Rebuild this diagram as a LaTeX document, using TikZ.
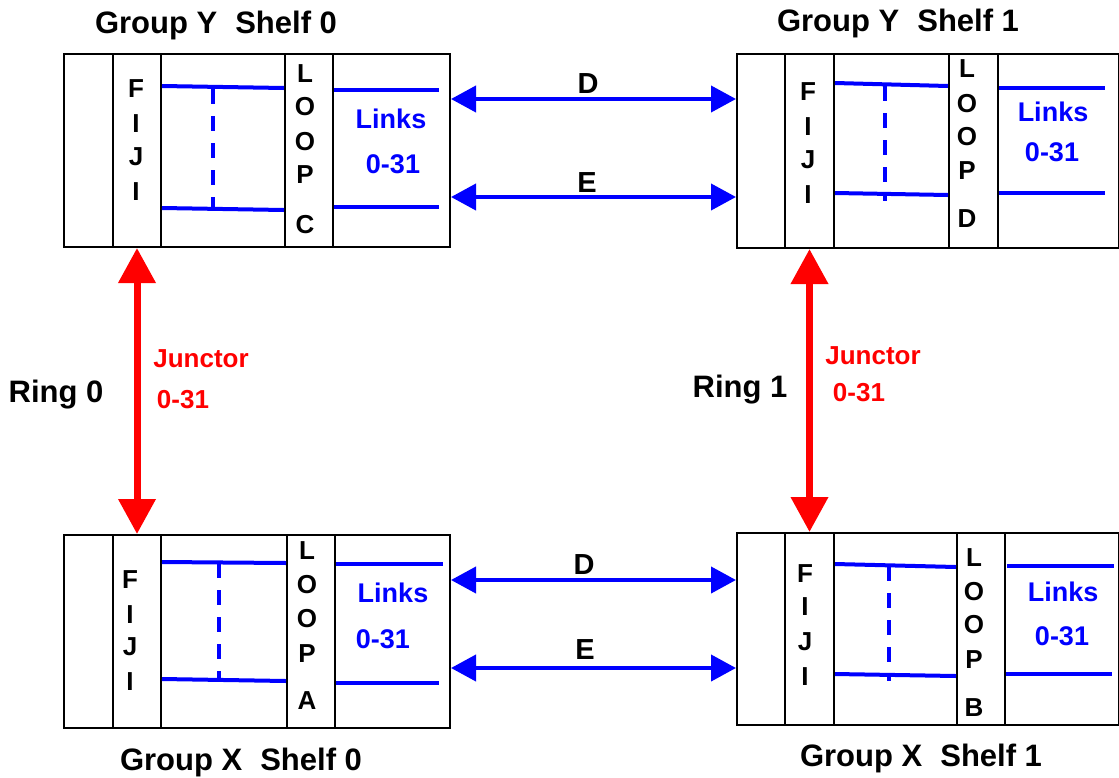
\documentclass[tikz,border=0pt]{standalone}
\usepackage{fontspec}
\setmainfont{Liberation Sans}
\usetikzlibrary{arrows.meta}
\definecolor{lblue}{RGB}{0,0,255}
\definecolor{lred}{RGB}{255,0,0}
\tikzset{
  box/.style={draw=black, line width=2pt, inner sep=0pt, anchor=north west},
  colbox/.style={box, minimum width=48pt},
  txt/.style={inner sep=0pt, anchor=base, font=\bfseries\fontsize{#1}{#1}\selectfont},
  hdr/.style={txt=31},
  lab/.style={txt=29},
  letter/.style={txt=26},
  bluetxt/.style={txt=27, text=lblue},
  redtxt/.style={txt=26, text=lred},
  bline/.style={draw=lblue, line width=4pt},
  dline/.style={draw=lblue, line width=4pt, dash pattern=on 15pt off 12pt},
  blink/.style={draw=lblue, line width=4pt, {Triangle[length=25pt,width=26pt]}-{Triangle[length=25pt,width=26pt]}},
  rlink/.style={draw=lred, line width=7pt, {Triangle[length=35pt,width=36pt]}-{Triangle[length=35pt,width=36pt]}},
}
\begin{document}
\begin{tikzpicture}[x=1pt,y=-1pt]
\useasboundingbox (0,0) rectangle (1119,777);

% ---------- shelves ----------
% top left (Group Y Shelf 0)
\node[box, minimum width=386pt, minimum height=193pt] (s0) at (63,53) {};
\node[colbox, minimum height=193pt] (f0) at (112,53) {};
\node[colbox, minimum height=193pt] (l0) at (284,53) {};
% top right (Group Y Shelf 1)
\node[box, minimum width=382pt, minimum height=194pt] (s1) at (736,53) {};
\node[colbox, minimum width=49pt, minimum height=194pt] (f1) at (784,53) {};
\node[colbox, minimum width=49pt, minimum height=194pt] (l1) at (948,53) {};
% bottom left (Group X Shelf 0)
\node[box, minimum width=386pt, minimum height=193pt] (s2) at (63,534) {};
\node[colbox, minimum height=193pt] (f2) at (112,534) {};
\node[colbox, minimum height=193pt] (l2) at (286,534) {};
% bottom right (Group X Shelf 1)
\node[box, minimum width=382pt, minimum height=192pt] (s3) at (736,532) {};
\node[colbox, minimum width=49pt, minimum height=192pt] (f3) at (784,532) {};
\node[colbox, minimum height=192pt] (l3) at (956,532) {};

% ---------- internal blue lines ----------
% TL
\draw[bline] (f0.east |- 0,86) -- (l0.west |- 0,88);
\draw[bline] (f0.east |- 0,208) -- (l0.west |- 0,210);
\draw[dline] (213,89) -- (213,208);
\coordinate (tl1) at (439,90); \coordinate (tl2) at (439,207);
\draw[bline] (l0.east |- tl1) -- (tl1);
\draw[bline] (l0.east |- tl2) -- (tl2);
% TR
\draw[bline] (f1.east |- 0,83) -- (l1.west |- 0,86);
\draw[bline] (f1.east |- 0,193) -- (l1.west |- 0,195);
\draw[dline] (885,86) -- (885,201);
\coordinate (tr1) at (1105,88); \coordinate (tr2) at (1105,193);
\draw[bline] (999,88) -- (tr1);
\draw[bline] (999,193) -- (tr2);
% BL
\draw[bline] (f2.east |- 0,562) -- (l2.west |- 0,563);
\draw[bline] (f2.east |- 0,679) -- (l2.west |- 0,681);
\draw[dline] (219,563) -- (219,680);
\coordinate (bl1) at (443,564); \coordinate (bl2) at (439,683);
\draw[bline] (336,564) -- (bl1);
\draw[bline] (l2.east |- bl2) -- (bl2);
% BR
\draw[bline] (f3.east |- 0,564) -- (l3.west |- 0,567);
\draw[bline] (f3.east |- 0,674) -- (l3.west |- 0,676);
\draw[dline] (889,566) -- (889,681);
\coordinate (br1) at (1114,566); \coordinate (br2) at (1112,674);
\draw[bline] (1007,566) -- (br1);
\draw[bline] (l3.east |- br2) -- (br2);

% ---------- links between shelves ----------
\draw[blink] (s0.east |- 0,99) -- (s1.west |- 0,99);
\draw[blink] (s0.east |- 0,197) -- (s1.west |- 0,197);
\draw[blink] (s2.east |- 0,580) -- (s3.west |- 0,580);
\draw[blink] (s2.east |- 0,668) -- (s3.west |- 0,668);
\draw[rlink] (f0.south) -- (f2.north);
\draw[rlink] (f1.south) -- (f3.north);

% ---------- labels ----------
\node[hdr] (h0) at (216,33) {Group Y\hspace{18pt}Shelf 0};
\node[hdr] (h1) at (898,31) {Group Y\hspace{18pt}Shelf 1};
\node[hdr] (h2) at (241,770) {Group X\hspace{18pt}Shelf 0};
\node[hdr] (h3) at (921,766) {Group X\hspace{18pt}Shelf 1};

\node[hdr] (r0) at (56,402) {Ring 0};
\node[hdr] (r1) at (740,397) {Ring 1};

\node[redtxt] (j0) at (201,367) {Junctor};
\node[redtxt] (j0n) at (183,408) {0-31};
\node[redtxt] (j1) at (873,364) {Junctor};
\node[redtxt] (j1n) at (859,401) {0-31};

\node[lab] (d0) at (588,93) {D};
\node[lab] (e0) at (587,192) {E};
\node[lab] (d1) at (584,574) {D};
\node[lab] (e1) at (585,659) {E};

\node[bluetxt] (k0) at (391,128) {Links};
\node[bluetxt] (k0n) at (393,173) {0-31};
\node[bluetxt] (k1) at (1053,121) {Links};
\node[bluetxt] (k1n) at (1052,161) {0-31};
\node[bluetxt] (k2) at (393,602) {Links};
\node[bluetxt] (k2n) at (383,648) {0-31};
\node[bluetxt] (k3) at (1063,601) {Links};
\node[bluetxt] (k3n) at (1062,645) {0-31};

% FIJI letters
\foreach \c/\y [count=\i] in {F/97, I/132, J/165, I/200} \node[letter] (fa\i) at (136,\y) {\c};
\foreach \c/\y [count=\i] in {F/100, I/135, J/168, I/203} \node[letter] (fb\i) at (808,\y) {\c};
\foreach \c/\y [count=\i] in {F/588, I/623, J/655, I/690} \node[letter] (fc\i) at (130,\y) {\c};
\foreach \c/\y [count=\i] in {F/582, I/615, J/650, I/685} \node[letter] (fd\i) at (805,\y) {\c};
% LOOP letters
\foreach \c/\y [count=\i] in {L/82, O/115, O/150, P/183, C/233} \node[letter] (la\i) at (305,\y) {\c};
\foreach \c/\y [count=\i] in {L/77, O/112, O/145, P/179, D/227} \node[letter] (lb\i) at (967,\y) {\c};
\foreach \c/\y [count=\i] in {L/559, O/593, O/627, P/662, A/709} \node[letter] (lc\i) at (307,\y) {\c};
\foreach \c/\y [count=\i] in {L/566, O/600, O/633, P/668, B/716} \node[letter] (ld\i) at (974,\y) {\c};
\end{tikzpicture}
\end{document}
